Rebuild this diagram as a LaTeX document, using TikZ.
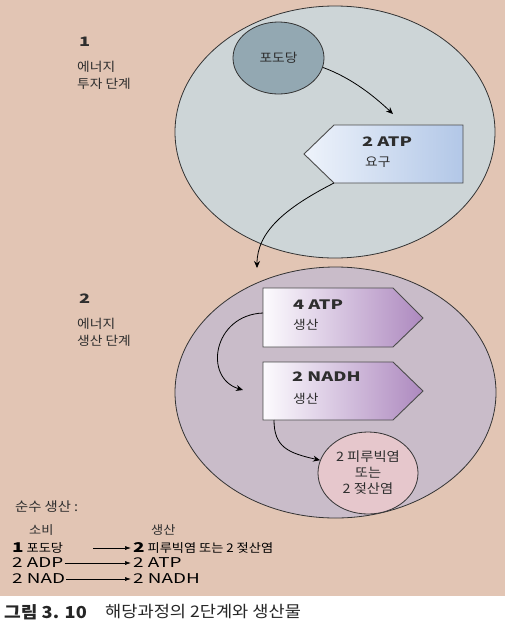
\documentclass[tikz,border=0pt]{standalone}
\usepackage{fontspec}
\setmainfont{Noto Sans CJK KR}[FakeStretch=1.1]
\newfontfamily\latwide{Noto Sans CJK KR}[FakeStretch=1.4]
\usetikzlibrary{shapes.geometric}
\usetikzlibrary{arrows.meta}
\definecolor{peach}{HTML}{E2C5B4}
\definecolor{phaseA}{HTML}{CDD5D7}
\definecolor{glcfill}{HTML}{93A8B2}
\definecolor{phaseB}{HTML}{C9BCC9}
\definecolor{pyrfill}{HTML}{E6C7CC}
\definecolor{blueL}{HTML}{EEF3FB}
\definecolor{blueR}{HTML}{B2C7E7}
\definecolor{purpL}{HTML}{FDFBFE}
\definecolor{purpR}{HTML}{AD89BF}
\definecolor{ink}{HTML}{2E2E2E}

\begin{document}
\begin{tikzpicture}[x=1pt, y=-1pt,
		oval/.style={ellipse, draw=black!80, line width=0.8pt, inner sep=0pt},
		arr/.style={-{Stealth[length=7pt,width=6pt]}, line width=0.8pt},
		netarr/.style={-{Latex[length=6pt,width=4pt]}, line width=0.6pt},
		box/.style={draw=black!70, line width=0.9pt},
		txt/.style={inner sep=0pt, anchor=west, text=ink, font=\fontsize{12.5}{16}\selectfont},
		big/.style={font=\latwide\bfseries\fontsize{13}{16}\selectfont},
		row/.style={text=black, font=\latwide\fontsize{13.5}{16}\selectfont}]

			\useasboundingbox (0, 0) rectangle (505, 633);
			\fill[peach] (0, 0) rectangle (505, 596);
			\fill[white] (0, 596) rectangle (505, 633);

			% phase 1
			\node[oval, fill=phaseA, minimum width=320pt, minimum height=252pt] (ph1) at (335, 132){};
			\node[oval, fill=glcfill, minimum width=91pt, minimum height=72pt, text=ink,
				font=\fontsize{12.5}{16}\selectfont] (glc) at (278.5, 58){포도당};

			\draw[box, left color=blueL, right color=blueR]
				(304, 154)--(334, 125)--(463, 125)--(463, 183)--(334, 183)--cycle;
			\coordinate (needC) at (334, 183);
			\coordinate (needT) at (393, 114);
			\node[txt, big] (atpA) at (362, 142){2 ATP};
			\node[txt] (atpB) at (365, 162){요구};

			% phase 2
			\node[oval, fill=phaseB, minimum width=321pt, minimum height=251pt] (ph2) at (335.5, 392.5){};

			\draw[box, left color=purpL, right color=purpR]
				(263, 288)--(393, 288)--(423, 318)--(393, 347)--(263, 347)--cycle;
			\draw[box, left color=purpL, right color=purpR]
				(263, 362)--(393, 362)--(423, 391)--(393, 420)--(263, 420)--cycle;
			\coordinate (prodA) at (263, 313);
			\coordinate (prodB) at (274, 420);
			\coordinate (nadhT) at (243, 390);
			\node[txt, big] (atpC) at (293, 305){4 ATP};
			\node[txt] (atpD) at (293, 325){생산};
			\node[txt, big] (nadhA) at (292, 377){2 NADH};
			\node[txt] (nadhB) at (293, 399){생산};

			\node[oval, fill=pyrfill, minimum width=100pt, minimum height=82pt, align=center,
				text=ink, font=\fontsize{13}{16}\selectfont] (pyr) at (368, 473){2 피루빅염\\또는\\2 젖산염};

			% connectors
			\coordinate (entry) at (257, 268);
			\draw[arr] (glc.-12) .. controls (352, 78) and (375, 97) .. (needT);
			\draw[arr] (needC) .. controls (285, 208) and (257, 232) .. (entry);
			\draw[arr] (prodA) .. controls (213, 315) and (203, 378) .. (nadhT);
			\draw[arr] (prodB) .. controls (274, 447) and (288, 453) .. (pyr.165);

			% side labels
			\node[txt, big] (num1) at (79, 42){1};
			\node[txt] (lbl1a) at (77, 67){에너지};
			\node[txt] (lbl1b) at (77, 84){투자 단계};
			\node[txt, big] (num2) at (79, 299){2};
			\node[txt] (lbl2a) at (77, 324){에너지};
			\node[txt] (lbl2b) at (77, 341){생산 단계};

			% net yield
			\node[txt, font=\fontsize{13}{15}\selectfont] (net) at (15, 507){순수 생산 :};
			\node[txt, font=\fontsize{12}{15}\selectfont] (used) at (29, 530){소비};
			\node[txt, font=\fontsize{12}{15}\selectfont] (made) at (151, 530){생산};

			\node[txt, text=black, font=\fontsize{12}{15}\selectfont] (c1) at (12, 548){{\latwide\bfseries\fontsize{13.5}{15}\selectfont 1} 포도당};
			\node[txt, row] (c2) at (12, 563){2 ADP};
			\node[txt, row] (c3) at (12, 579){2 NAD};
			\node[txt, text=black, font=\fontsize{12}{15}\selectfont] (p1) at (133, 548){{\latwide\bfseries\fontsize{13.5}{15}\selectfont 2} 피루빅염 또는 2 젖산염};
			\node[txt, row] (p2) at (133, 563){2 ATP};
			\node[txt, row] (p3) at (133, 579){2 NADH};

			\coordinate (c1e) at (93, 548);
			\draw[netarr] (c1e)--([xshift=-2pt]p1.west);
			\draw[netarr] ([xshift=1pt]c2.east)--([xshift=-2pt]p2.west);
			\draw[netarr] ([xshift=1pt]c3.east)--([xshift=-2pt]p3.west);

			% caption
			\node[txt, text=black!85, font=\bfseries\fontsize{16.5}{20}\selectfont] (figno) at (4, 612){그림 3. 10};
			\node[txt, text=black!85, font=\fontsize{16}{18}\selectfont] (figcap) at (105, 612){해당과정의 2단계와 생산물};
		\end{tikzpicture}
\end{document}
